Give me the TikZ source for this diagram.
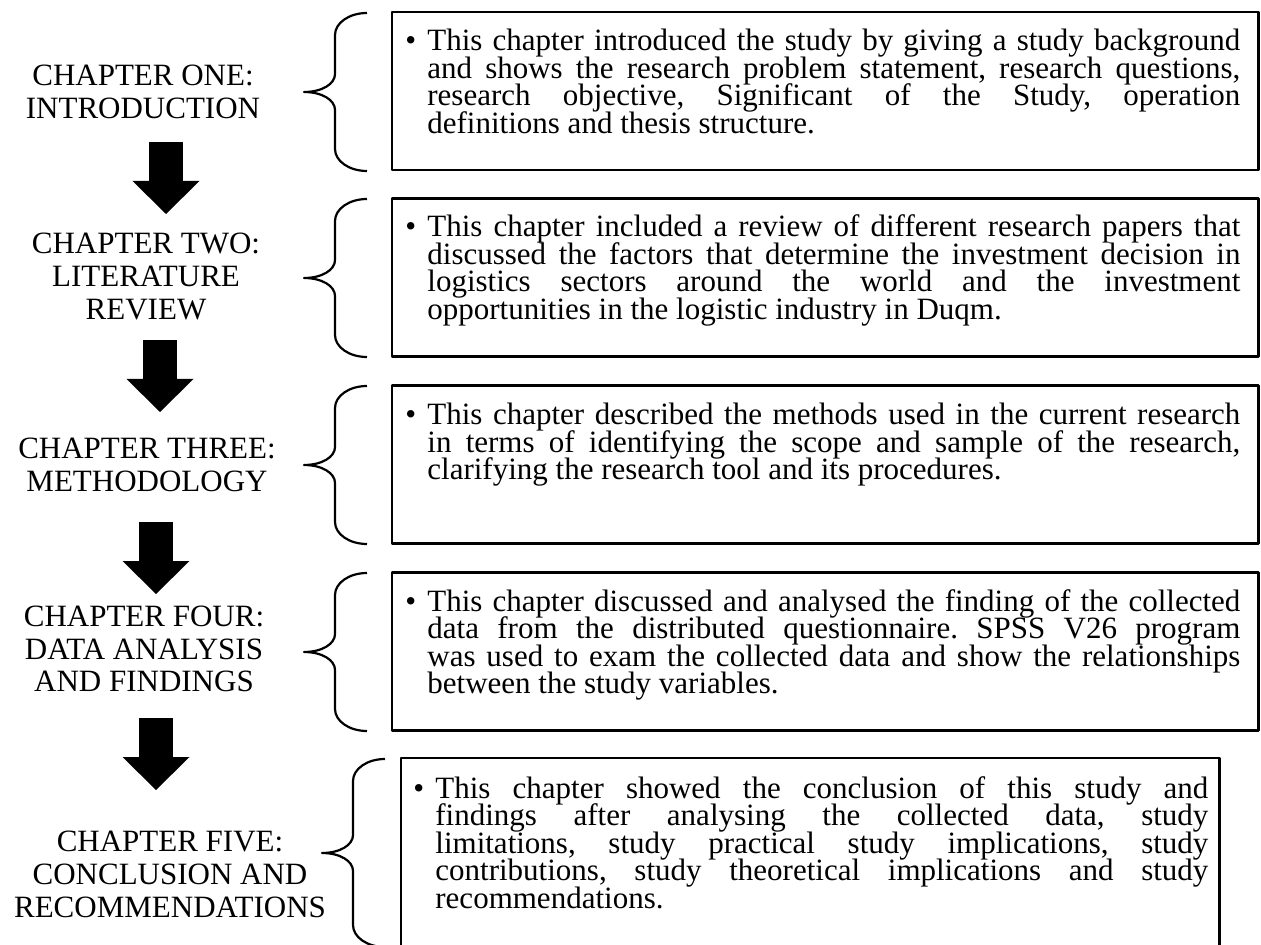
\documentclass[tikz,border=0pt]{standalone}
\usepackage{fontspec}
\setmainfont{Liberation Serif}
\usetikzlibrary{arrows.meta}
\newcommand{\fullline}[1]{\makebox[\linewidth][s]{#1}}
\frenchspacing

\begin{document}
\begin{tikzpicture}[
    x={(0.5pt,0pt)}, y={(0pt,-0.5pt)},
    line join=round,
    chlabel/.style={align=center, inner sep=0pt, font=\fontsize{15.5}{16.4}\selectfont},
    chbox/.style={draw, line width=1.3pt, inner sep=0pt,
      minimum width=433.25pt, minimum height=79pt},
    chtext/.style={inner sep=0pt, anchor=base west, font=\fontsize{15.5}{13.75}\selectfont},
    chbrace/.style={line width=1.1pt},
    bigarrow/.style={line width=17pt,
      -{Triangle[width=33.5pt, length=16.5pt, line width=0pt]}}]
  \clip (0,0) rectangle (1261,945);
  % Capitulos
  \node[chlabel] (c1) at (143,91.5) {CHAPTER ONE:\\INTRODUCTION};
  \node[chlabel] (c2) at (146,276.5) {CHAPTER TWO:\\LITERATURE\\REVIEW};
  \node[chlabel] (c3) at (147,464.5) {CHAPTER THREE:\\METHODOLOGY};
  \node[chlabel] (c4) at (144,649) {CHAPTER FOUR:\\DATA ANALYSIS\\AND FINDINGS};
  \node[chlabel] (c5) at (170,874.5) {CHAPTER FIVE:\\CONCLUSION AND\\RECOMMENDATIONS};
  % Flechas
  \coordinate (a1s) at (166,142); \coordinate (a1e) at (166,214);
  \coordinate (a2s) at (160,340); \coordinate (a2e) at (160,412);
  \coordinate (a3s) at (156,522); \coordinate (a3e) at (156,594);
  \coordinate (a4s) at (156,718); \coordinate (a4e) at (156,790);
  \draw[bigarrow] (a1s) -- (a1e);
  \draw[bigarrow] (a2s) -- (a2e);
  \draw[bigarrow] (a3s) -- (a3e);
  \draw[bigarrow] (a4s) -- (a4e);
  % Llaves
  \foreach \bx/\bt/\bb in {367/13/171, 367/199/357, 367/386/544, 367/573/731, 385/759/947} {
    \pgfmathsetmacro\bm{(\bt+\bb)/2}
    \draw[chbrace] (\bx,\bt) .. controls ({\bx-18},\bt) and ({\bx-32},{\bt+10}) .. ({\bx-32},{\bt+22})
      -- ({\bx-32},{\bm-18})
      .. controls ({\bx-32},{\bm-8}) and ({\bx-45},\bm) .. ({\bx-63},\bm)
      .. controls ({\bx-45},\bm) and ({\bx-32},{\bm+8}) .. ({\bx-32},{\bm+18})
      -- ({\bx-32},{\bb-22})
      .. controls ({\bx-32},{\bb-10}) and ({\bx-18},\bb) .. (\bx,\bb);
  }
  % Cajas
  \node[chbox] (b1) at (825.25,91) {};
  \node[chbox] (b2) at (825.25,277.5) {};
  \node[chbox] (b3) at (825.25,464.5) {};
  \node[chbox] (b4) at (825.25,651.5) {};
  \node[chbox, minimum width=409.25pt, minimum height=101pt] (b5) at (810.25,859) {};
  % Textos
  \node[chtext] (t1) at (405,51) {\makebox[11pt][l]{\textbullet}\parbox[t]{406.5pt}{\lineskiplimit=-20pt
    \fullline{This chapter introduced the study by giving a study background}\\
    \fullline{and shows the research problem statement, research questions,}\\
    \fullline{research objective, Significant of the Study, operation}\\
    definitions and thesis structure.}};
  \node[chtext] (t2) at (405,237) {\makebox[11pt][l]{\textbullet}\parbox[t]{406.5pt}{\lineskiplimit=-20pt
    \fullline{This chapter included a review of different research papers that}\\
    \fullline{discussed the factors that determine the investment decision in}\\
    \fullline{logistics sectors around the world and the investment}\\
    opportunities in the logistic industry in Duqm.}};
  \node[chtext] (t3) at (405,425) {\makebox[11pt][l]{\textbullet}\parbox[t]{406.5pt}{\lineskiplimit=-20pt
    \fullline{This chapter described the methods used in the current research}\\
    \fullline{in terms of identifying the scope and sample of the research,}\\
    clarifying the research tool and its procedures.}};
  \node[chtext] (t4) at (405,611) {\makebox[11pt][l]{\textbullet}\parbox[t]{406.5pt}{\lineskiplimit=-20pt
    \fullline{This chapter discussed and analysed the finding of the collected}\\
    \fullline{data from the distributed questionnaire. SPSS V26 program}\\
    \fullline{was used to exam the collected data and show the relationships}\\
    between the study variables.}};
  \node[chtext] (t5) at (413,798) {\makebox[11pt][l]{\textbullet}\parbox[t]{386.5pt}{\lineskiplimit=-20pt
    \fullline{This chapter showed the conclusion of this study and}\\
    \fullline{findings after analysing the collected data, study}\\
    \fullline{limitations, study practical study implications, study}\\
    \fullline{contributions, study theoretical implications and study}\\
    recommendations.}};
\end{tikzpicture}
\end{document}
